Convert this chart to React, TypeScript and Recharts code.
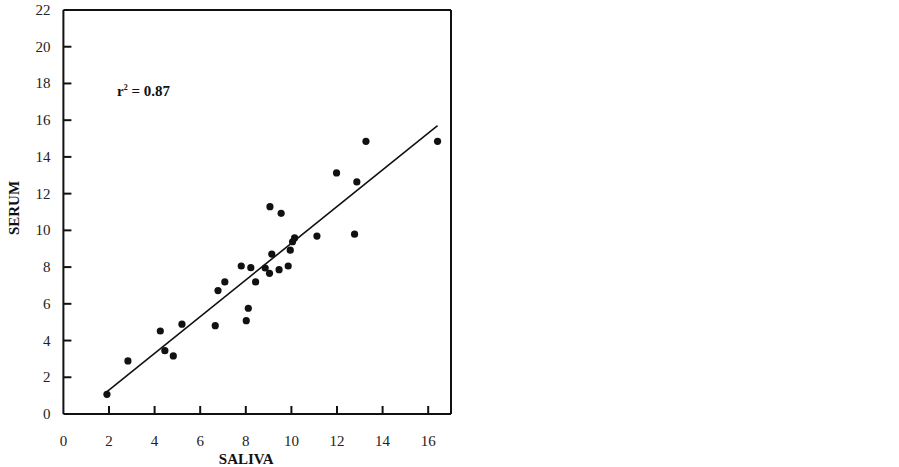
import React from 'react';
import { ScatterChart, Scatter, XAxis, YAxis, Label, ReferenceLine } from 'recharts';

const saliva = [1.91, 2.83, 4.25, 4.45, 4.82, 5.2, 6.66, 6.78, 7.08, 7.8, 8.02, 8.11, 8.22, 8.43, 8.85, 9.04, 9.14, 9.46, 9.86, 9.95, 10.05, 10.14, 11.12, 12.77, 9.06, 9.55, 11.98, 12.87, 13.27, 16.41];
const serum = [1.07, 2.89, 4.52, 3.45, 3.16, 4.89, 4.81, 6.72, 7.19, 8.06, 5.08, 5.76, 7.97, 7.19, 7.95, 7.66, 8.71, 7.86, 8.06, 8.92, 9.38, 9.59, 9.69, 9.79, 11.29, 10.93, 13.13, 12.64, 14.85, 14.85];
const fitSaliva = [1.9, 16.41];
const fitSerum = [1.21, 15.7];
const xTicks = [0, 2, 4, 6, 8, 10, 12, 14, 16];
const yTicks = [0, 2, 4, 6, 8, 10, 12, 14, 16, 18, 20, 22];
const xMax = 17;
const yMax = 22;
const rSquared = '0.87';

const points = saliva.map((x, i) => ({ x, y: serum[i] }));
const fit = fitSaliva.map((x, i) => ({ x, y: fitSerum[i] }));

const FONT = '"Liberation Serif", "Times New Roman", serif';
const INK = '#111';
const axisLine = { stroke: INK, strokeWidth: 2 };

const XTick = (p: any) => {
  const v = p.payload.value;
  return (
    <g>
      {v !== 0 && <line x1={p.x} x2={p.x} y1={p.y} y2={p.y - 8} stroke={INK} strokeWidth={2} />}
      <text x={p.x} y={p.y + 32} textAnchor="middle" fontFamily={FONT} fontSize={15} fill="#222">
        {v}
      </text>
    </g>
  );
};

const YTick = (p: any) => {
  const v = p.payload.value;
  return (
    <g>
      {v !== 0 && v !== yMax && (
        <line x1={p.x} x2={p.x + 8} y1={p.y} y2={p.y} stroke={INK} strokeWidth={2} />
      )}
      <text x={p.x - 13} y={p.y + 5} textAnchor="end" fontFamily={FONT} fontSize={15} fill="#222">
        {v}
      </text>
    </g>
  );
};

const Dot = (p: any) => <circle cx={p.cx} cy={p.cy} r={3.6} fill={INK} />;
const NoDot = () => <g />;

export default function App() {
  return (
    <div style={{ position: 'fixed', left: 0, top: 0, width: 899, height: 467, background: '#fff' }}>
      <ScatterChart width={899} height={467} margin={{ top: 10, right: 448, bottom: 0, left: 0 }}>
        <XAxis
          type="number"
          dataKey="x"
          domain={[0, xMax]}
          ticks={xTicks}
          interval={0}
          height={53}
          tickSize={0}
          tickMargin={0}
          axisLine={axisLine}
          tickLine={false}
          tick={XTick}
        >
          <Label
            value="SALIVA"
            position="insideBottom"
            offset={3}
            dx={-11}
            style={{ fontSize: 15, fontWeight: 'bold', fontFamily: FONT, fill: INK }}
          />
        </XAxis>
        <YAxis
          type="number"
          dataKey="y"
          domain={[0, yMax]}
          ticks={yTicks}
          interval={0}
          width={63.4}
          tickSize={0}
          tickMargin={0}
          axisLine={axisLine}
          tickLine={false}
          tick={YTick}
        >
          <Label
            value="SERUM"
            angle={-90}
            position="insideLeft"
            offset={14}
            dy={-4}
            style={{ fontSize: 15, fontWeight: 'bold', fontFamily: FONT, fill: INK, textAnchor: 'middle' }}
          />
        </YAxis>
        <ReferenceLine y={yMax} stroke={INK} strokeWidth={2} ifOverflow="visible" />
        <ReferenceLine x={xMax} stroke={INK} strokeWidth={2} ifOverflow="visible" />
        <Scatter data={points} shape={Dot} isAnimationActive={false} />
        <Scatter
          data={fit}
          shape={NoDot}
          line={{ stroke: INK, strokeWidth: 1.6 }}
          isAnimationActive={false}
        />
      </ScatterChart>
      <div
        style={{
          position: 'absolute',
          left: 117,
          top: 83,
          fontFamily: FONT,
          fontWeight: 'bold',
          fontSize: 15,
          lineHeight: '17px',
          color: INK,
          whiteSpace: 'nowrap',
        }}
      >
        r<sup style={{ fontSize: 8, verticalAlign: 'super', lineHeight: 0 }}>2</sup> = {rSquared}
      </div>
    </div>
  );
}
